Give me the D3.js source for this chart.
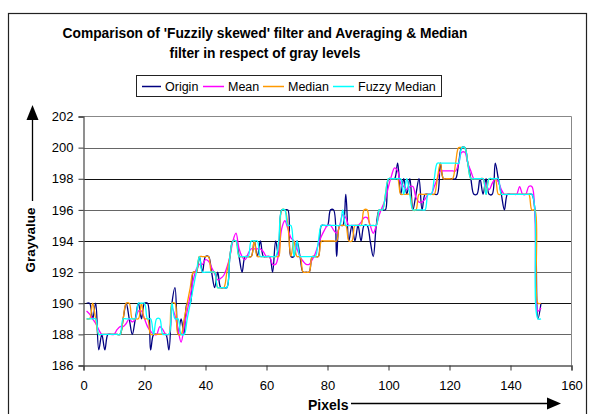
<!DOCTYPE html>
<html>
<head>
<meta charset="utf-8">
<script src="https://cdn.jsdelivr.net/npm/d3@7"></script>
<style>
  html, body { margin: 0; padding: 0; background: #fff; }
  svg { display: block; }
  text { font-family: Arial, "Liberation Sans", sans-serif; }
</style>
</head>
<body>
<div id="chart"></div>
<script>
// ---------------- DATA ----------------
const titleLines = ["Comparison of 'Fuzzily skewed' filter and Averaging & Median",
                    "filter in respect of gray levels"];
const seriesNames = ["Origin", "Mean", "Median", "Fuzzy Median"];
const seriesColors = ["#000080", "#FF00FF", "#FF9900", "#00FFFF"];
const xTicks = [0, 20, 40, 60, 80, 100, 120, 140, 160];
const yTicks = [186, 188, 190, 192, 194, 196, 198, 200, 202];
const xTitle = "Pixels";
const yTitle = "Grayvalue";

const pixels = [
  1,2,3,4,5,6,7,8,9,10, 11,12,13,14,15,16,17,18,19,20,
  21,22,23,24,25,26,27,28,29,30, 31,32,33,34,35,36,37,38,39,40,
  41,42,43,44,45,46,47,48,49,50, 51,52,53,54,55,56,57,58,59,60,
  61,62,63,64,65,66,67,68,69,70, 71,72,73,74,75,76,77,78,79,80,
  81,82,83,84,85,86,87,88,89,90, 91,92,93,94,95,96,97,98,99,100,
  101,102,103,104,105,106,107,108,109,110, 111,112,113,114,115,116,117,118,119,120,
  121,122,123,124,125,126,127,128,129,130, 131,132,133,134,135,136,137,138,139,140,
  141,142,143,144,145,146,147,148,149,150
];

const origin = [
  190,190,189,190,187,188,187,188,188,188,
  188,188,189,190,189,188,189,190,189,190,
  190,187,188,188,188,188,188,187,190,191,
  188,189,188,190,190,192,192,193,192,193,
  193,192,191,192,191,191,191,193,194,194,
  193,192,193,193,193,194,193,194,193,193,
  193,192,194,193,196,196,196,193,193,194,
  193,192,192,192,193,193,193,195,195,195,
  196,196,193,195,195,197,194,195,194,195,
  194,195,195,194,193,195,196,196,196,198,
  198,198,199,197,198,197,198,196,197,198,
  196,197,197,197,197,197,199,198,198,198,
  198,198,199,200,200,199,198,197,197,198,
  197,198,197,197,199,198,197,196,197,197,
  197,197,197,197,197,197,197,196,189,190
];

const mean = [
  189.5,189.3,189.0,188.7,188.3,188.0,188.0,188.0,188.0,188.0,
  188.3,188.5,188.5,188.7,189.0,188.8,189.0,189.5,189.5,189.0,
  188.5,188.2,188.0,188.0,188.5,188.3,188.0,188.0,189.7,189.2,
  188.3,187.5,188.5,189.5,190.5,191.5,192.2,192.5,192.5,192.8,
  192.7,192.3,191.9,191.5,191.6,191.8,192.3,193.0,194.0,194.5,
  193.5,193.0,192.8,193.2,193.5,193.5,193.5,193.5,193.3,193.0,
  193.0,192.5,192.5,193.2,194.8,195.3,194.8,194.2,194.0,193.5,
  193.0,192.7,192.5,192.5,192.8,193.2,193.8,194.3,194.7,195.0,
  195.0,194.7,194.5,195.0,195.7,195.5,195.0,195.0,195.0,195.0,
  195.2,195.5,195.5,195.0,194.5,195.0,195.7,196.2,196.7,197.5,
  198.2,198.7,198.5,197.7,197.5,197.3,197.5,197.5,196.8,196.5,
  196.5,196.7,197.0,197.0,197.5,198.0,198.5,198.5,198.5,198.5,
  198.5,198.5,199.0,199.7,199.7,199.0,198.5,198.0,198.0,198.0,
  198.0,197.5,197.3,197.7,198.0,197.8,197.3,197.0,197.0,197.0,
  197.0,197.0,197.5,197.0,197.0,197.5,197.5,195.7,189.5,189.7
];

const median = [
  189,189,190,189,188,188,188,188,188,188,
  188,188,189,190,190,189,189,189,190,189,
  189,188,188,188,188,188,188,188,190,190,
  188,188,189,190,191,192,192,193,193,193,
  193,192,192,191,191,191,192,193,194,194,
  193,193,193,193,193,194,193,193,193,193,
  193,193,193,193,196,196,195,193,194,193,
  193,192,192,192,193,193,193,194,194,194,
  194,194,194,195,195,195,194,194,195,195,
  195,196,196,195,195,195,196,196,197,198,
  198,198,198,197,197,197,197,196,196,197,
  197,197,197,197,197,198,199,198,198,198,
  198,199,200,200,200,199,198,198,198,198,
  198,197,198,198,198,197,197,197,197,197,
  197,197,197,197,197,197,196,196,190,190
];

const fuzzyMedian = [
  189,189,189,189,188,188,188,188,188,188,
  188,188,189,189,189,189,189,190,190,190,
  189,189,188,189,189,188,188,188,190,189,
  189,188,188,189,190,191,192,193,192,192,
  192,192,192,191,191,191,191,193,194,194,
  193,193,193,193,194,194,194,193,193,193,
  193,193,193,194,196,196,195,195,193,194,
  193,193,193,193,193,193,194,195,195,195,
  195,195,195,195,196,195,195,195,195,195,
  195,195,195,195,195,195,196,196,197,198,
  198,198,198,198,197,198,197,196,196,196,
  196,196,197,197,198,199,199,199,199,199,
  199,199,199,200,200,199,198,198,198,198,
  198,197,198,198,198,198,197,197,197,197,
  197,197,197,197,197,197,197,196,189,189
];

const seriesValues = [origin, mean, median, fuzzyMedian];

// ---------------- CHART ----------------
const W = 590, H = 414;
const svg = d3.select("#chart").append("svg").attr("width", W).attr("height", H);

// outer frame
svg.append("rect").attr("x", 8.5).attr("y", 13.5).attr("width", 578).attr("height", 410)
  .attr("fill", "#fff").attr("stroke", "#222").attr("stroke-width", 1.2);

// title
const title = svg.append("text").attr("text-anchor", "middle")
  .attr("font-weight", "bold").attr("font-size", "13.8px").attr("fill", "#000");
titleLines.forEach((t, i) => {
  title.append("tspan").attr("x", 265).attr("y", 38 + i * 20).text(t);
});

// scales
const x = d3.scaleLinear().domain([xTicks[0], xTicks[xTicks.length - 1]]).range([83.5, 571.5]);
const y = d3.scaleLinear().domain([yTicks[0], yTicks[yTicks.length - 1]]).range([365.5, 116.5]);

// gridlines
svg.append("g").selectAll("line").data(yTicks.filter(v => v > yTicks[0] && v < yTicks[yTicks.length - 1]))
  .join("line")
  .attr("x1", x(0)).attr("x2", x(160))
  .attr("y1", d => Math.round(y(d)) + 0.5).attr("y2", d => Math.round(y(d)) + 0.5)
  .attr("stroke", d => (d % 4 === 2 ? "#111" : "#666"))
  .attr("stroke-width", 1);

// plot frame top/right (gray)
svg.append("path")
  .attr("d", `M${x(0)},${y(202)}H${x(160)}V${y(186)}`)
  .attr("fill", "none").attr("stroke", "#888").attr("stroke-width", 1);

// axes
const yAxis = d3.axisLeft(y).tickValues(yTicks).tickSize(5).tickPadding(5).tickFormat(d3.format("d"));
const gy = svg.append("g").attr("transform", `translate(${x(0)},0)`).call(yAxis);
const xAxis = d3.axisBottom(x).tickValues(xTicks).tickSize(5).tickPadding(10).tickFormat(d3.format("d"));
const gx = svg.append("g").attr("transform", `translate(0,${y(186)})`).call(xAxis);
[gx, gy].forEach(g => {
  g.select(".domain").attr("stroke", "#555").attr("stroke-width", 1.3);
  g.selectAll(".tick line").attr("stroke", "#333");
  g.selectAll(".tick text").attr("font-size", "13px").attr("fill", "#000")
    .attr("font-family", "Arial, 'Liberation Sans', sans-serif");
});

// lines
const line = d3.line().curve(d3.curveCatmullRom.alpha(0.5))
  .x((d, i) => x(pixels[i])).y(d => y(d));
const gl = svg.append("g");
seriesValues.forEach((vals, k) => {
  gl.append("path").datum(vals).attr("d", line)
    .attr("fill", "none").attr("stroke", seriesColors[k]).attr("stroke-width", 1.3)
    .attr("stroke-linejoin", "round");
});

// legend
const lg = svg.append("g");
lg.append("rect").attr("x", 136.5).attr("y", 75.5).attr("width", 305).attr("height", 21)
  .attr("fill", "#fff").attr("stroke", "#222").attr("stroke-width", 1);
const legendItems = [
  { x1: 142, x2: 161, tx: 165 },
  { x1: 203, x2: 224, tx: 228 },
  { x1: 263, x2: 284, tx: 288 },
  { x1: 333, x2: 354, tx: 358 }
];
seriesNames.forEach((n, k) => {
  const it = legendItems[k];
  lg.append("line").attr("x1", it.x1).attr("x2", it.x2).attr("y1", 86.5).attr("y2", 86.5)
    .attr("stroke", seriesColors[k]).attr("stroke-width", 1.5);
  lg.append("text").attr("x", it.tx).attr("y", 90.5).attr("font-size", "12.5px").attr("fill", "#000").text(n);
});

// axis titles with arrows
svg.append("text").attr("x", 308).attr("y", 410).attr("font-size", "14px").attr("font-weight", "bold")
  .attr("fill", "#000").text(xTitle);
svg.append("line").attr("x1", 351).attr("x2", 550).attr("y1", 403.5).attr("y2", 403.5)
  .attr("stroke", "#000").attr("stroke-width", 1.3);
svg.append("path").attr("d", "M547,397.5L561,403.5L547,409.5Z").attr("fill", "#000");

svg.append("text").attr("transform", "translate(35,240) rotate(-90)").attr("text-anchor", "middle")
  .attr("font-size", "13.4px").attr("font-weight", "bold").attr("fill", "#000").text(yTitle);
svg.append("line").attr("x1", 32.5).attr("x2", 32.5).attr("y1", 201).attr("y2", 118)
  .attr("stroke", "#000").attr("stroke-width", 1.3);
svg.append("path").attr("d", "M26.5,120L32.5,105L38.5,120Z").attr("fill", "#000");
</script>
</body>
</html>
